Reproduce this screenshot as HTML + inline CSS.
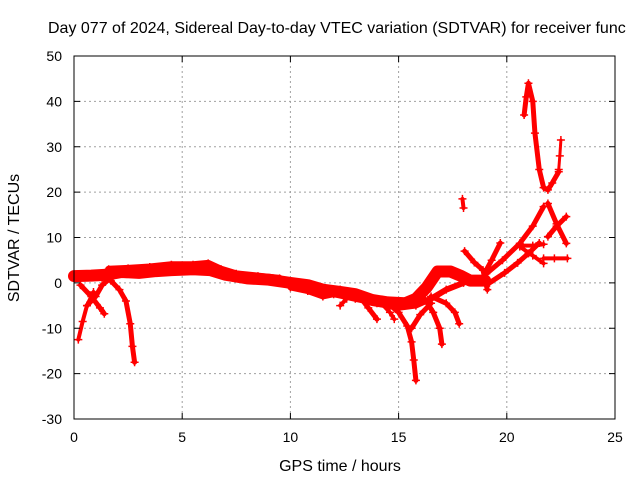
<!DOCTYPE html>
<html><head><meta charset="utf-8"><style>
body{margin:0;background:#fff}
svg{display:block;font-family:"Liberation Sans",sans-serif}
</style></head><body>
<svg id="chart" width="640" height="480" viewBox="0 0 640 480">
<rect width="640" height="480" fill="#fff"/>
<g id="grid"></g>
<g id="series"></g>
<rect x="74" y="56" width="541" height="363" fill="none" stroke="#000" stroke-width="1"/>
<g id="axes"></g>
<text x="48" y="33" font-size="16">Day 077 of 2024, Sidereal Day-to-day VTEC variation (SDTVAR) for receiver func</text>
<text x="340" y="471" font-size="16" text-anchor="middle">GPS time / hours</text>
<text x="19" y="238" font-size="16" text-anchor="middle" transform="rotate(-90 19 238)">SDTVAR / TECUs</text>
</svg>
<script>
const xTicks=[0,5,10,15,20,25];
const yTicks=[-30,-20,-10,0,10,20,30,40,50];
const mainBand=[[0,1.5],[0.8,1.6],[1.5,1.8],[2.2,2.4],[3,2.2],[3.8,2.6],[4.5,2.8],[5.5,3],[6.3,2.8],[7,1.8],[8,1],[9,0.7],[10,0],[10.8,-0.5],[11.5,-1.5],[12.3,-2],[13,-2.5],[13.8,-3.8],[14.5,-4.3],[15.3,-4.5],[15.8,-3.5],[16.3,-1],[16.8,2.5],[17.4,2.5],[17.9,1.5],[18.3,0.5],[19,0.5]];
const bandUpper=[[1.6,3],[2.5,3.2],[3.5,3.5],[4.5,4],[5.5,4],[6.2,4.3],[6.8,3],[7.5,2],[8.5,1.5],[9.5,1]];
const bandLower=[[10,-1],[10.8,-1.8],[11.5,-3],[12,-2.5],[13,-3.5],[14,-4.5],[15,-5.5],[15.8,-5],[16.5,-3.5],[17.2,-1.5],[18,0]];
const dipA=[[0.9,-2],[0.6,-5],[0.4,-8.5],[0.2,-12.5]];
const dipB=[[1.2,1.5],[1.7,0.5],[2.1,-1.5],[2.4,-4],[2.6,-9],[2.7,-14],[2.8,-17.5]];
const dipC=[[1.8,1.5],[1.3,-0.5],[1,-3],[0.6,-5]];
const dipD=[[0.3,-0.5],[0.8,-3],[1.2,-5.5],[1.4,-6.8]];
const dipE=[[12.3,-1.5],[12.6,-3.5],[12.3,-5]];
const dipF=[[13.2,-3],[13.6,-5.5],[14,-8]];
const dipG=[[14.2,-4.5],[14.6,-6.5],[14.8,-8]];
const dipH=[[14.5,-4.5],[15,-6.5],[15.4,-9.5],[15.6,-13],[15.7,-17],[15.8,-21.5]];
const dipI=[[15.6,-10],[16,-7],[16.5,-4.5]];
const dipJ=[[16.2,-3.5],[16.6,-6.5],[16.9,-10],[17,-13.5]];
const dipK=[[16.5,-3],[17.2,-4.5],[17.6,-6.5],[17.8,-9]];
const blob18=[[17.95,18.5],[18,16.5]];
const trk18a=[[18.05,7],[18.5,4.5],[18.9,2.8],[19.1,-1.5]];
const trk18b=[[19.7,8.8],[19.3,5],[19.05,2.8]];
const riseA=[[19.05,2],[19.8,5],[20.6,8.7],[21.2,12.5],[21.7,16.8]];
const riseB=[[19.2,0],[19.9,2.2],[20.5,4.4],[21,6.5],[21.5,8.8]];
const branchA=[[20.6,8],[21.2,6],[21.7,4.3]];
const branchB=[[20.6,8.2],[21.2,8.2],[21.7,8.5]];
const flatC=[[21.7,5.4],[22.2,5.4],[22.8,5.4]];
const spike=[[20.8,37],[20.9,41],[21,44],[21.2,40],[21.3,33],[21.5,25],[21.7,21],[21.9,20.5],[22.1,22],[22.4,24.5]];
const spikeTail=[[22.4,25],[22.45,28],[22.5,31.5]];
const crossA=[[21.9,17.5],[22.3,13],[22.75,8.7]];
const crossB=[[21.9,10.2],[22.3,12.5],[22.75,14.6]];
const tracks=[[mainBand,12],[bandUpper,7],[bandLower,6],[dipA,4],[dipB,5],[dipC,5],[dipD,5],[dipE,4],[dipF,5],[dipG,4],[dipH,5],[dipI,5],[dipJ,5],[dipK,5],[blob18,4],[trk18a,5],[trk18b,5],[riseA,5],[riseB,5],[branchA,4],[branchB,4],[flatC,4],[spike,5],[spikeTail,3],[crossA,5],[crossB,5]];
const NS='http://www.w3.org/2000/svg';
const X0=74,X1=615,Y0=419,Y1=56;
function xs(t){return X0+(t-0)/(25-0)*(X1-X0);}
function ys(v){return Y0-(v+30)/80*(Y0-Y1);}
function mk(tag,attrs,parent){const e=document.createElementNS(NS,tag);for(const k in attrs)e.setAttribute(k,attrs[k]);parent.appendChild(e);return e;}
const grid=document.getElementById('grid'),axes=document.getElementById('axes'),ser=document.getElementById('series');
xTicks.forEach(t=>{const x=xs(t);
 if(t>0&&t<25){const g=mk('line',{x1:x,x2:x,y1:Y1,y2:Y0,stroke:'#a0a0a0','stroke-dasharray':'2,3'},grid);
 
 }
 mk('line',{x1:x,x2:x,y1:Y0,y2:Y0-6,stroke:'#000'},axes);
 mk('line',{x1:x,x2:x,y1:Y1,y2:Y1+6,stroke:'#000'},axes);
 const l=mk('text',{x:x,y:Y0+23,'font-size':14,'text-anchor':'middle'},axes);l.textContent=t;
 
 
});
yTicks.forEach(v=>{const y=ys(v);
 if(v>-30&&v<50){const g=mk('line',{x1:X0,x2:X1,y1:y,y2:y,stroke:'#a0a0a0','stroke-dasharray':'2,3'},grid);
 
 }
 mk('line',{x1:X0,x2:X0+6,y1:y,y2:y,stroke:'#000'},axes);
 mk('line',{x1:X1,x2:X1-6,y1:y,y2:y,stroke:'#000'},axes);
 const l=mk('text',{x:X0-12,y:y+5,'font-size':14,'text-anchor':'end'},axes);l.textContent=v;
 
 
});
tracks.forEach(([pts,w])=>{
 const p=mk('polyline',{points:pts.map(q=>xs(q[0])+','+ys(q[1])).join(' '),fill:'none',stroke:'#ff0000','stroke-width':w,'stroke-linecap':'round','stroke-linejoin':'round'},ser);
 
 
 pts.forEach(q=>{const x=xs(q[0]),y=ys(q[1]);
  const m=mk('path',{d:`M${x-4},${y}h8M${x},${y-4}v8`,stroke:'#ff0000','stroke-width':1.5},ser);
  
  
 });
});
</script>
</body></html>
